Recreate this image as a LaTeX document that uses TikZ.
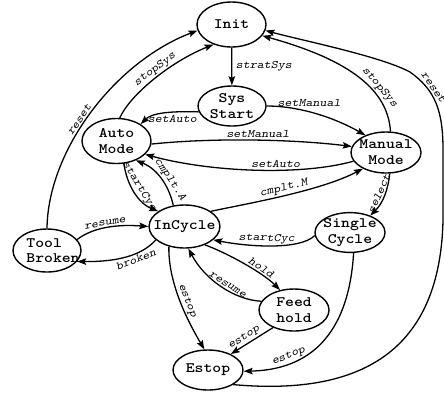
\documentclass[tikz,border=0pt]{standalone}
\usepackage{fontspec}
\newfontfamily\statefont{lmmonolt10-bold.otf}[FakeStretch=1.17]
\newfontfamily\lblfont{lmmonoslant10-regular.otf}[FakeStretch=1.16]
\usetikzlibrary{shapes.geometric,arrows.meta}
\begin{document}
\begin{tikzpicture}[x=1bp,y=1bp,
  state/.style={ellipse, draw, line width=1.4bp, minimum width=69bp, minimum height=43bp,
    inner xsep=-6bp, inner ysep=0bp, align=center,
    font=\statefont\fontsize{14.5}{16}\selectfont},
  edge/.style={line width=1.3bp, -{Stealth[length=9bp,width=6.5bp,inset=1.5bp]}},
  lbl/.style={font=\lblfont\fontsize{11.5}{12}\selectfont, inner sep=1.5bp}]
\path[use as bounding box] (0,0) rectangle (444,-392);

% states
\node[state, minimum height=45bp] (init) at (231.5,-24.5) {Init};
\node[state, minimum width=68bp, minimum height=40bp] (sys) at (232,-106) {Sys\\Start};
\node[state, minimum height=45bp] (auto) at (116.5,-141) {Auto\\Mode};
\node[state, minimum width=70bp, minimum height=41bp] (manual) at (386,-152.5) {Manual\\Mode};
\node[state, minimum width=65bp] (incycle) at (184.5,-226.5) {InCycle};
\node[state, minimum width=68bp, inner xsep=-10bp, align=left,
      font=\statefont\fontsize{14.5}{15}\selectfont] (tool) at (47,-250.5)
      {\hspace*{12bp}Tool\\\hspace*{12bp}Broken};
\node[state, minimum width=70bp, minimum height=39bp] (single) at (350,-232.5) {Single\\Cycle};
\node[state, minimum width=70bp, minimum height=42bp] (feed) at (294,-310) {Feed\\hold};
\node[state, minimum width=70bp, minimum height=40bp] (estop) at (208,-370) {Estop};

% transitions
\draw[edge] (init) -- (sys) node[lbl, midway, right=2bp] {stratSys};
\draw[edge] (auto.82) .. controls (130,-95) and (170,-62) .. (init.228)
  node[lbl, pos=0.55, sloped, above] {stopSys};
\draw[edge] (tool.north) .. controls (48,-150) and (115,-62) .. (init.190)
  node[lbl, pos=0.45, sloped, above] {reset};
\draw[edge] (sys.190) .. controls (170,-111) and (152,-113) .. (auto.35)
  node[lbl, pos=0.35, below=1bp] {setAuto};
\draw[edge] (sys.east) .. controls (300,-106) and (335,-118) .. (manual.140)
  node[lbl, pos=0.42, above=3bp] {setManual};
\draw[edge] (auto.-5) .. controls (220,-137) and (300,-140) .. (manual.170)
  node[lbl, pos=0.5, above] {setManual};
\draw[edge] (manual.195) .. controls (300,-176) and (210,-172) .. (auto.-25)
  node[lbl, pos=0.4, above=0.5bp] {setAuto};
\draw[edge] (incycle.30) .. controls (250,-203) and (320,-191) .. (manual.215)
  node[lbl, pos=0.5, sloped, above=0bp] {cmplt.M};
\draw[edge] (incycle.118) .. controls (170,-190) and (160,-170) .. (auto.-45)
  node[lbl, pos=0.45, sloped, above] {cmplt.A};
\draw[edge] (auto.-72) .. controls (127,-185) and (138,-203) .. (incycle.150)
  node[lbl, pos=0.45, sloped, above] {startCyc};
\draw[edge] (tool.20) .. controls (92,-228) and (115,-224) .. (incycle.180)
  node[lbl, pos=0.5, sloped, above] {resume};
\draw[edge] (incycle.205) .. controls (145,-252) and (125,-262) .. (tool.-20)
  node[lbl, pos=0.45, sloped, below] {broken};
\draw[edge] (manual.-80) .. controls (388,-190) and (383,-203) .. (single.40)
  node[lbl, pos=0.5, sloped, above] {select};
\draw[edge] (single.185) .. controls (300,-250) and (250,-247) .. (incycle.-25)
  node[lbl, pos=0.55, sloped, above] {startCyc};
\draw[edge] (incycle.-42) .. controls (225,-252) and (262,-272) .. (feed.125)
  node[lbl, pos=0.68, sloped, above] {hold};
\draw[edge] (feed.165) .. controls (235,-300) and (205,-280) .. (incycle.-80)
  node[lbl, pos=0.45, sloped, above] {resume};
\draw[edge] (incycle.-128) .. controls (168,-285) and (190,-325) .. (estop.100)
  node[lbl, pos=0.5, sloped, above] {estop};
\draw[edge] (feed.-140) -- (estop.35)
  node[lbl, pos=0.6, sloped, above] {estop};
\draw[edge] (single.-80) .. controls (348,-345) and (300,-370) .. (estop.-2)
  node[lbl, pos=0.7, sloped, above] {estop};
\draw[edge] (manual.78) .. controls (388,-90) and (350,-60) .. (init.-20)
  node[lbl, pos=0.35, sloped, above] {stopSys};
\draw[edge] (estop.-30) .. controls (350,-395) and (440,-360) .. (443,-220)
  -- (443,-150) .. controls (443,-110) and (435,-90) .. (410,-72)
  node[lbl, pos=0.68, sloped, above] {reset}
  .. controls (380,-56) and (300,-40) .. (init.-10);
\end{tikzpicture}
\end{document}
